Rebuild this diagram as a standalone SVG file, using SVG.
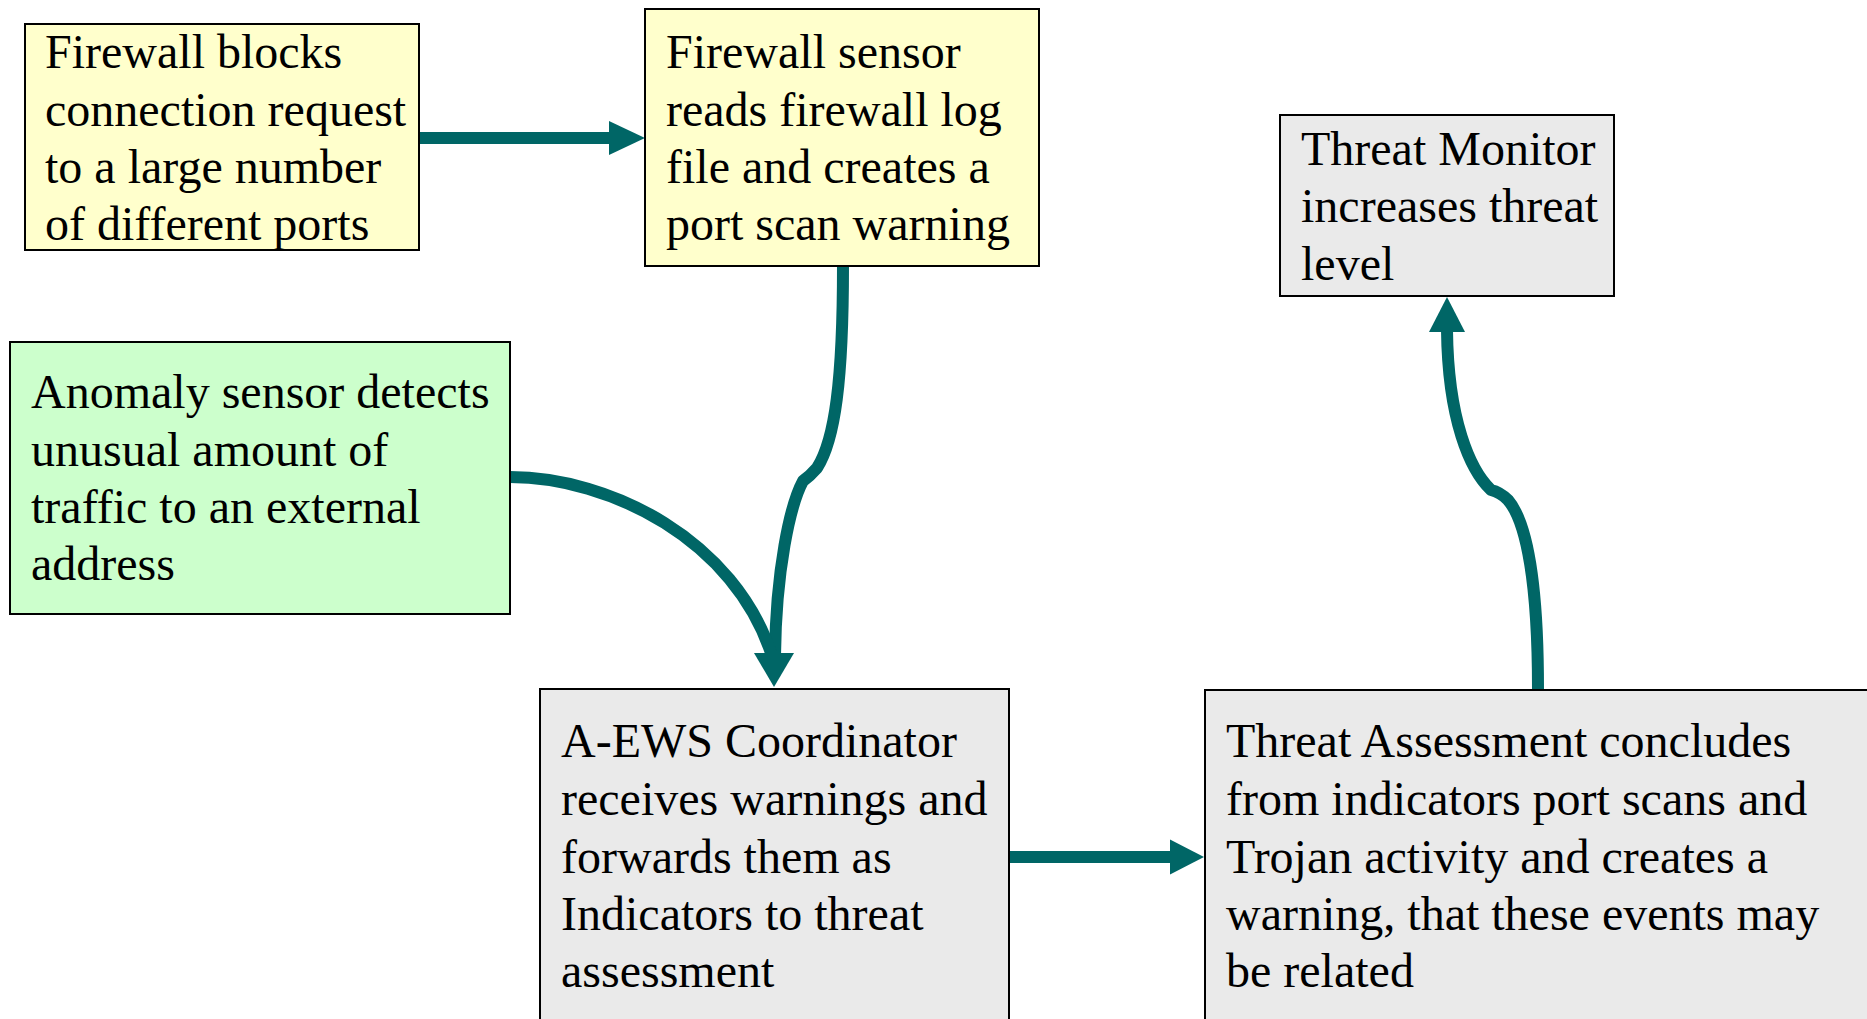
<svg xmlns="http://www.w3.org/2000/svg" width="1867" height="1019" viewBox="0 0 1867 1019">
<style>
.box{stroke:#000;stroke-width:2}
.y{fill:#FFFFCC}
.g{fill:#CCFFCC}
.k{fill:#EAEAEA}
text{font-family:"Liberation Serif","Times New Roman",serif;font-size:48px;fill:#000}
.c{fill:none;stroke:#006666;stroke-width:12;stroke-linejoin:round}
.h{fill:#006666}
</style>
<rect width="1867" height="1019" fill="#fff"/>
<g id="connectors">
<path class="c" d="M420,138 L612,138"/>
<polygon class="h" points="645,138 609,121 609,155"/>
<path class="c" d="M1009,857 L1173,857"/>
<polygon class="h" points="1204,857 1170,839.5 1170,874.5"/>
<path class="c" d="M843,266 C843,380 835,440 817,468 Q810,476 803,481 C790,505 776,570 775,656"/>
<path class="c" d="M510,477 C610,477 735,540 772,656"/>
<polygon class="h" points="774,687 754,653 794,653"/>
<path class="c" d="M1538,689 C1538,585 1527,522 1508,500 Q1500,492 1491,490 C1470,470 1448,420 1447,330"/>
<polygon class="h" points="1447,297 1429,332 1465,332"/>
</g>
<g id="n1">
<rect class="box y" x="25" y="24" width="394" height="226"/>
<text x="45" y="68">Firewall blocks</text>
<text x="45" y="126">connection request</text>
<text x="45" y="183">to a large number</text>
<text x="45" y="240">of different ports</text>
</g>
<g id="n2">
<rect class="box y" x="645" y="9" width="394" height="257"/>
<text x="666" y="68">Firewall sensor</text>
<text x="666" y="126">reads firewall log</text>
<text x="666" y="183">file and creates a</text>
<text x="666" y="240">port scan warning</text>
</g>
<g id="n3">
<rect class="box k" x="1280" y="115" width="334" height="181"/>
<text x="1301" y="165">Threat Monitor</text>
<text x="1301" y="222">increases threat</text>
<text x="1301" y="280">level</text>
</g>
<g id="n4">
<rect class="box g" x="10" y="342" width="500" height="272"/>
<text x="31" y="408">Anomaly sensor detects</text>
<text x="31" y="466">unusual amount of</text>
<text x="31" y="523">traffic to an external</text>
<text x="31" y="580">address</text>
</g>
<g id="n5">
<rect class="box k" x="540" y="689" width="469" height="340"/>
<text x="561" y="757">A-EWS Coordinator</text>
<text x="561" y="815">receives warnings and</text>
<text x="561" y="873">forwards them as</text>
<text x="561" y="930">Indicators to threat</text>
<text x="561" y="987">assessment</text>
</g>
<g id="n6">
<rect class="box k" x="1205" y="690" width="680" height="340"/>
<text x="1226" y="757">Threat Assessment concludes</text>
<text x="1226" y="815">from indicators port scans and</text>
<text x="1226" y="873">Trojan activity and creates a</text>
<text x="1226" y="930">warning, that these events may</text>
<text x="1226" y="987">be related</text>
</g>
</svg>
